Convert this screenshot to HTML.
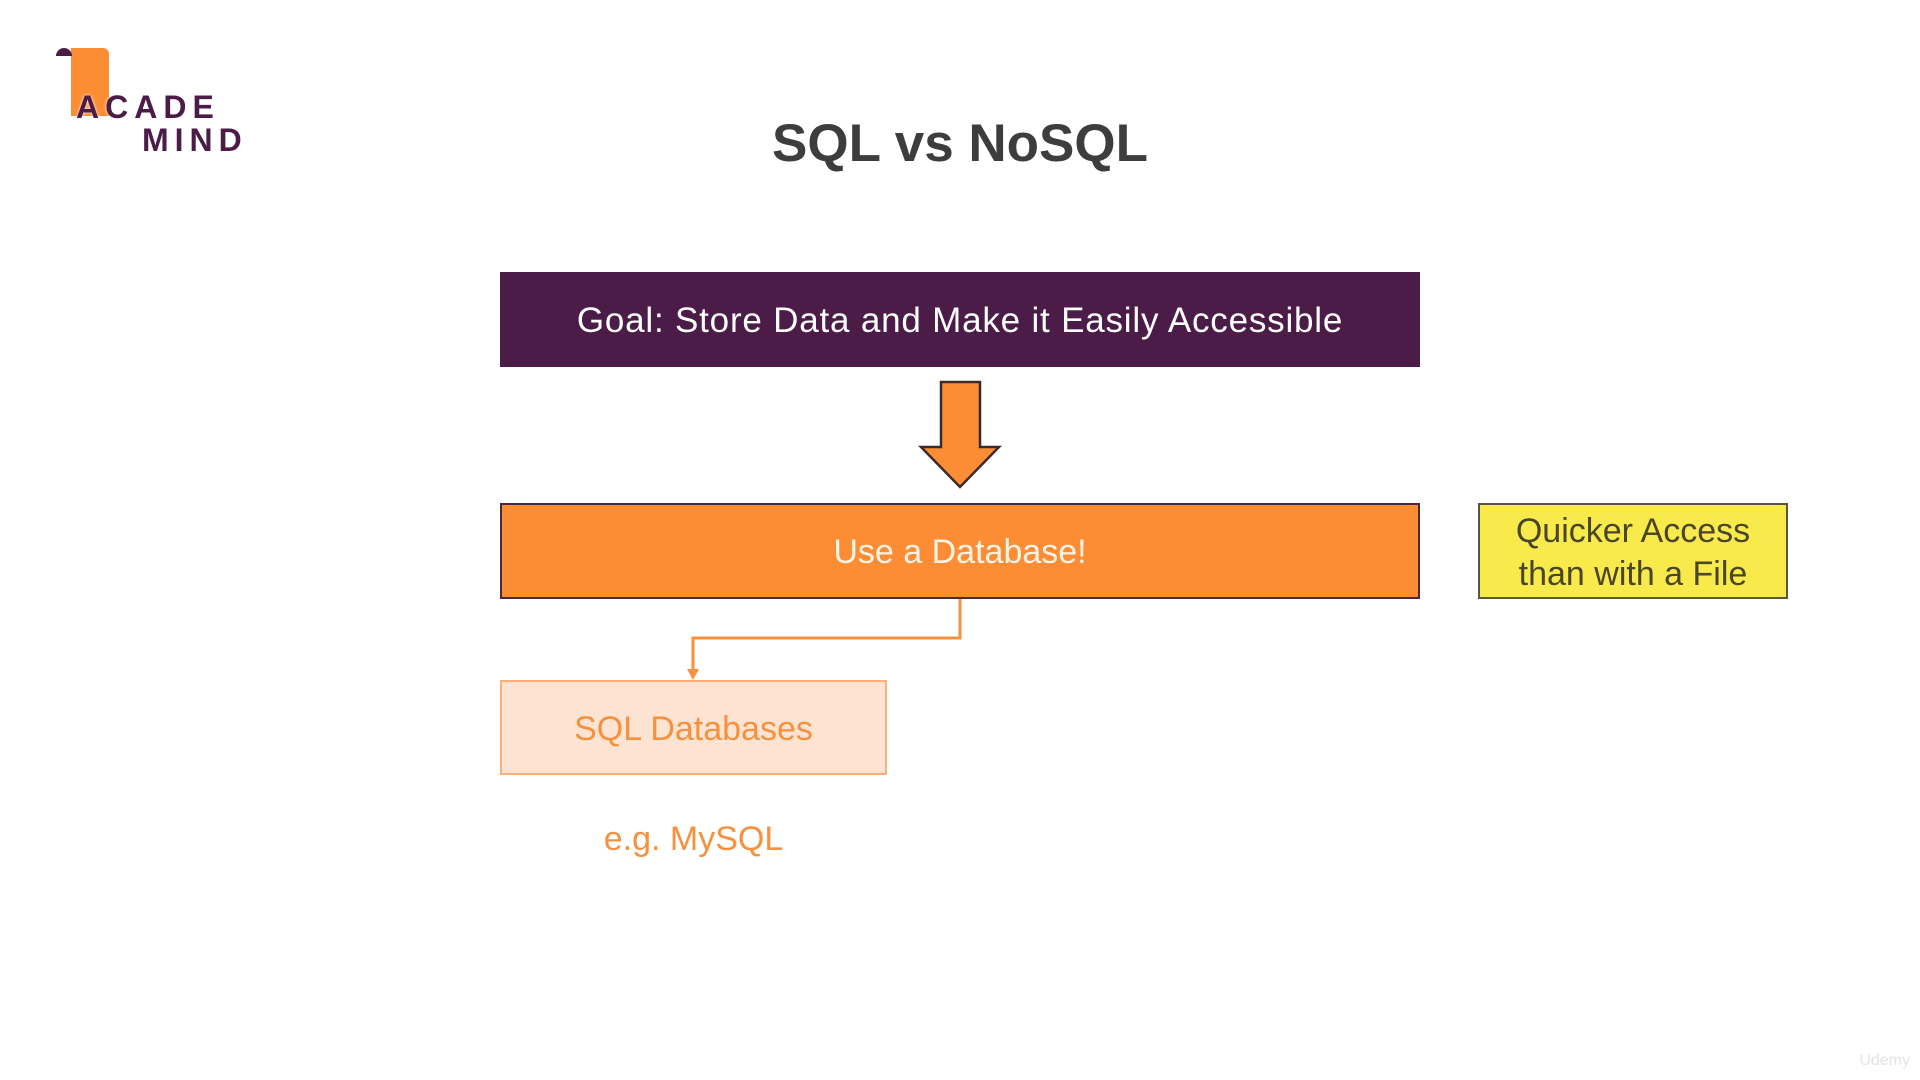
<!DOCTYPE html>
<html><head><meta charset="utf-8"><style>
html,body{margin:0;padding:0;width:1920px;height:1080px;background:#fff;overflow:hidden;font-family:"Liberation Sans",sans-serif}
.a{position:absolute;box-sizing:border-box;display:flex;align-items:center;justify-content:center;text-align:center}
</style></head><body>
<!-- logo -->
<div style="position:absolute;left:71px;top:48px;width:38px;height:68px;background:#fd8d34;border-radius:0 6px 0 0"></div>
<div style="position:absolute;left:56px;top:48px;width:16px;height:8px;background:#4a1c47;border-radius:8px 8px 0 0"></div>
<div style="position:absolute;left:76px;top:91px;font-weight:bold;font-size:32px;letter-spacing:6px;color:#4a1c47;line-height:32px;text-shadow:0 0 3px #fff">ACADE</div>
<div style="position:absolute;left:142px;top:124px;font-weight:bold;font-size:32px;letter-spacing:6px;color:#4a1c47;line-height:32px">MIND</div>

<div class="a" style="left:660px;top:108px;width:600px;height:70px;font-size:53px;font-weight:bold;color:#3d3d3d">SQL vs NoSQL</div>

<div class="a" style="left:500px;top:272px;width:920px;height:95px;padding-top:3px;background:#4a1c47;color:#fff;font-size:35px;letter-spacing:0.8px">Goal: Store Data and Make it Easily Accessible</div>

<svg style="position:absolute;left:0;top:0" width="1920" height="1080">
<polygon points="941,382 980,382 980,447 999,447 960,487 921,447 941,447" fill="#fd8d34" stroke="#3b2a2a" stroke-width="2.5" stroke-linejoin="miter"/>
<polyline points="960,599 960,638 693,638 693,672" fill="none" stroke="#f7913d" stroke-width="3"/>
<polygon points="687,669 699,669 693,680" fill="#f7913d"/>
</svg>

<div class="a" style="left:500px;top:503px;width:920px;height:96px;padding-top:2px;background:#fd8d34;border:2px solid #4a2a3a;color:#fff3e6;font-size:34px">Use a Database!</div>

<div class="a" style="left:1478px;top:503px;width:310px;height:96px;padding-top:3px;background:#f9ea4c;border:2px solid #5a5540;color:#4a4628;font-size:34px;line-height:43px">Quicker Access<br>than with a File</div>

<div class="a" style="left:500px;top:680px;width:387px;height:95px;padding-top:3px;background:#fde4d2;border:2px solid #f9b07a;color:#f7913d;font-size:34px">SQL Databases</div>

<div class="a" style="left:500px;top:816px;width:387px;height:46px;color:#f7913d;font-size:34px">e.g. MySQL</div>

<div style="position:absolute;right:10px;bottom:10px;color:#e4e4e4;font-size:16px">Udemy</div>
</body></html>
